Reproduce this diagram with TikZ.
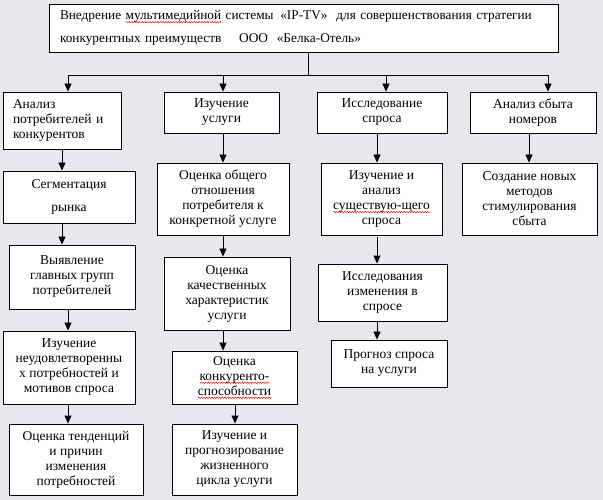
\documentclass[tikz,border=0pt]{standalone}
\usepackage{fontspec}
\setmainfont{Liberation Serif}
\usetikzlibrary{arrows.meta,decorations.pathmorphing}
\newsavebox\rwbox
\newdimen\rwd
\newcommand\rwave[1]{\leavevmode\sbox\rwbox{#1}\rwd=\wd\rwbox
  \rlap{\tikz[baseline=0pt,x=1pt,y=1pt]\draw[red,line width=0.45pt,decorate,
    decoration={snake,amplitude=0.7pt,segment length=2.6pt}] (0,-2.6) -- (\the\rwd,-2.6);}%
  \usebox\rwbox}
\definecolor{bgc}{RGB}{233,231,237}
\newcommand\bxnode[7][]{%
  \node[bx,#1,minimum width={#4-#2},minimum height={#5-#3}] (#7) at ({(#2+#4)/2},{(#3+#5)/2}) {#6};}
\begin{document}
\begin{tikzpicture}[x=1pt,y=-1pt,
  bx/.style={draw,line width=0.9pt,fill=white,align=center,inner sep=0pt,
    font=\fontsize{13.5}{15}\selectfont},
  conn/.style={line width=0.8pt},
  arr/.style={line width=0.8pt,-{Triangle[width=7pt,length=8pt]}}]
\fill[bgc] (0,0) rectangle (603,500);
\useasboundingbox (0,0) rectangle (603,500);
% top
\node[bx,minimum width=509,minimum height=48,text width=487,inner xsep=11pt,align=left,
  font=\fontsize{13.3}{23}\selectfont] (top) at (303.5,28)
  {\mbox{Внедрение \rwave{мультимедийной} системы \,«IP-TV»\ \ для совершенствования стратегии}\\
   \mbox{конкурентных преимуществ\ \ \ \ ООО\ \ «Белка-Отель»}};
% row 1
\bxnode[align=left,text width=98,inner xsep=10pt]{3}{92}{121}{149}{Анализ\\потребителей и\\конкурентов}{A}
\bxnode{164}{92}{279}{133}{Изучение\\услуги}{B}
\bxnode{317}{92}{447}{133}{Исследование\\спроса}{C}
\bxnode{470}{92}{596}{133}{Анализ сбыта\\номеров}{D}
% column 1
\bxnode{3}{171}{135}{223}{Сегментация\\[8pt]рынка}{A1}
\bxnode{9}{245}{135}{309}{Выявление\\главных групп\\потребителей}{A2}
\bxnode{3}{331}{135}{404}{Изучение\\неудовлетворенны\\х потребностей и\\мотивов спроса}{A3}
\bxnode{9}{424}{143}{495}{Оценка тенденций\\и причин\\изменения\\потребностей}{A4}
% column 2
\bxnode{157}{163}{289}{235}{Оценка общего\\отношения\\потребителя к\\конкретной услуге}{B1}
\bxnode{164}{257}{290}{330}{Оценка\\качественных\\характеристик\\услуги}{B2}
\bxnode{172}{351}{297}{404}{Оценка\\\rwave{конкуренто-}\\\rwave{способности}}{B3}
\bxnode{172}{424}{297}{495}{Изучение и\\прогнозирование\\жизненного\\цикла услуги}{B4}
% column 3
\bxnode{321}{163}{442}{235}{Изучение и\\анализ\\\rwave{существую-щего}\\спроса}{C1}
\bxnode{318}{264}{447}{321}{Исследования\\изменения в\\спросе}{C2}
\bxnode{331}{340}{447}{387}{Прогноз спроса\\на услуги}{C3}
% column 4
\bxnode{462}{163}{597}{235}{Создание новых\\методов\\стимулирования\\сбыта}{D1}
% distribution
\coordinate (j) at (308,75);
\coordinate (jl) at (68,75);
\coordinate (jr) at (548,75);
\coordinate (xb) at (223,75);
\coordinate (xc) at (386,75);
\draw[conn] (top.south -| j) -- (j);
\draw[conn] (jl) -- (jr);
\draw[arr] (jl) -- (A.north -| jl);
\draw[arr] (xb) -- (B.north -| xb);
\draw[arr] (xc) -- (C.north -| xc);
\draw[arr] (jr) -- (D.north -| jr);
% column arrows
\coordinate (a1) at (62,0); \coordinate (a2) at (68,0);
\draw[arr] (A.south -| a1) -- (A1.north -| a1);
\draw[arr] (A1.south -| a1) -- (A2.north -| a1);
\draw[arr] (A2.south -| a2) -- (A3.north -| a2);
\draw[arr] (A3.south -| a2) -- (A4.north -| a2);
\coordinate (b1) at (223,0); \coordinate (b2) at (235,0);
\draw[arr] (B.south -| b1) -- (B1.north -| b1);
\draw[arr] (B1.south -| b1) -- (B2.north -| b1);
\draw[arr] (B2.south -| b1) -- (B3.north -| b1);
\draw[arr] (B3.south -| b2) -- (B4.north -| b2);
\coordinate (c1) at (377,0);
\draw[arr] (C.south -| c1) -- (C1.north -| c1);
\draw[arr] ([yshift=-2pt]C1.south -| c1) -- (C2.north -| c1);
\draw[arr] (C2.south -| c1) -- (C3.north -| c1);
\coordinate (d1) at (529,0);
\draw[arr] (D.south -| d1) -- (D1.north -| d1);
\end{tikzpicture}
\end{document}
